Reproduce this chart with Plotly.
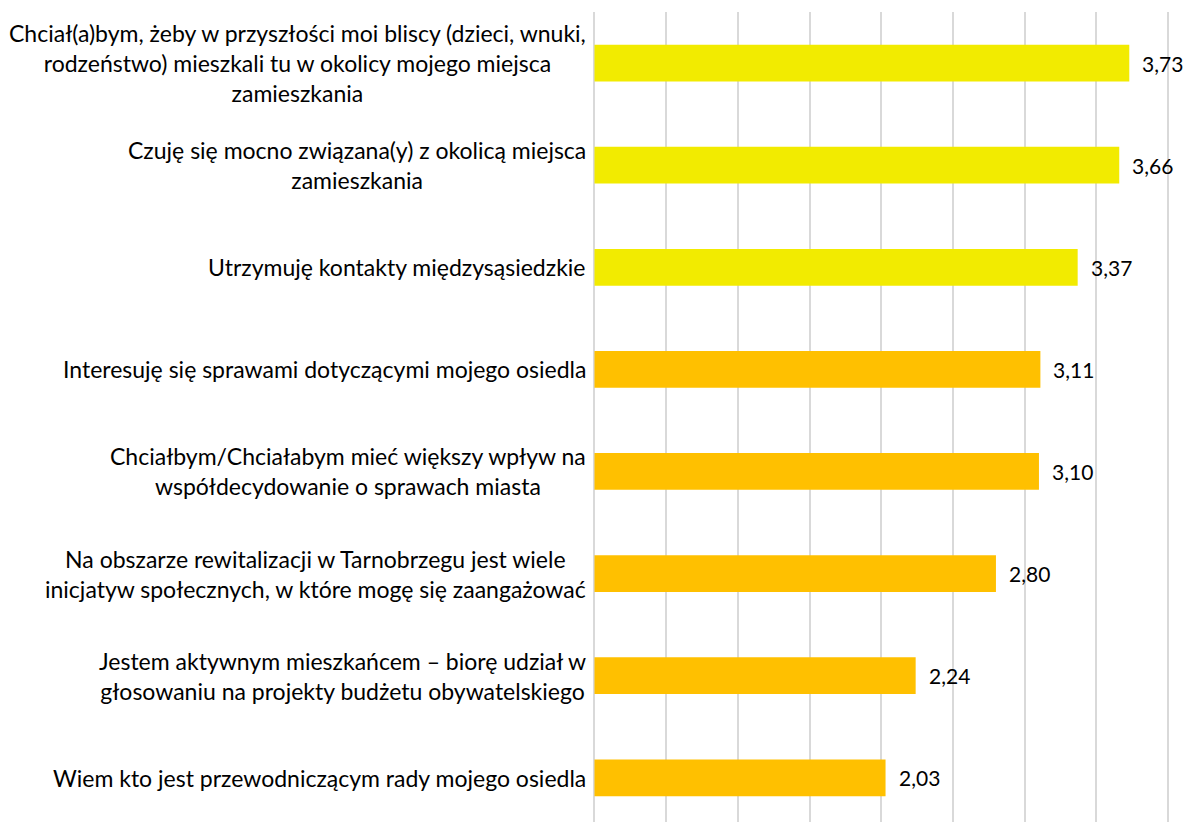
import plotly.graph_objects as go

categories = [
    "Chciał(a)bym, żeby w przyszłości moi bliscy (dzieci, wnuki,<br>rodzeństwo) mieszkali tu w okolicy mojego miejsca<br>zamieszkania",
    "Czuję się mocno związana(y) z okolicą miejsca<br>zamieszkania",
    "Utrzymuję kontakty międzysąsiedzkie",
    "Interesuję się sprawami dotyczącymi mojego osiedla",
    "Chciałbym/Chciałabym mieć większy wpływ na<br>współdecydowanie o sprawach miasta",
    "Na obszarze rewitalizacji w Tarnobrzegu jest wiele<br>inicjatyw społecznych, w które mogę się zaangażować",
    "Jestem aktywnym mieszkańcem – biorę udział w<br>głosowaniu na projekty budżetu obywatelskiego",
    "Wiem kto jest przewodniczącym rady mojego osiedla",
]
values = [3.73, 3.66, 3.37, 3.11, 3.10, 2.80, 2.24, 2.03]
value_labels = ["3,73", "3,66", "3,37", "3,11", "3,10", "2,80", "2,24", "2,03"]
YELLOW = "#F2EB00"
ORANGE = "#FFC000"
colors = [YELLOW, YELLOW, YELLOW, ORANGE, ORANGE, ORANGE, ORANGE, ORANGE]

FONT = "Lato"
FS = 23
FS_VAL = 21

fig = go.Figure()
fig.add_trace(go.Bar(
    x=values, y=categories, orientation="h",
    marker=dict(color=colors, line=dict(width=0)),
    width=0.36, hoverinfo="skip",
))

for c, v, t in zip(categories, values, value_labels):
    fig.add_annotation(x=v, y=c, xref="x", yref="y", text=t, showarrow=False,
                       xanchor="left", xshift=11, font=dict(family=FONT, size=FS_VAL, color="#000000"))
    fig.add_annotation(x=0, y=c, xref="paper", yref="y", text=c, showarrow=False,
                       xanchor="right", xshift=-4, align="center",
                       font=dict(family=FONT, size=FS, color="#000000"))

fig.update_layout(
    width=1176, height=814,
    margin=dict(l=584, r=4, t=4, b=0, pad=0),
    paper_bgcolor="white", plot_bgcolor="white",
    showlegend=False,
    font=dict(family=FONT, size=FS, color="#000000"),
)
fig.update_xaxes(range=[-0.0174, 4.0837], tick0=0, dtick=0.5, showgrid=True,
                 gridcolor="#D9D9D9", gridwidth=1.5, zeroline=True,
                 zerolinecolor="#D9D9D9", zerolinewidth=1.5,
                 showticklabels=False, showline=False, ticks="")
fig.update_yaxes(type="category", categoryorder="array", categoryarray=categories,
                 range=[7.433, -0.5], showticklabels=False, showgrid=False,
                 zeroline=False, showline=False, ticks="")

fig.write_html("out.html")
